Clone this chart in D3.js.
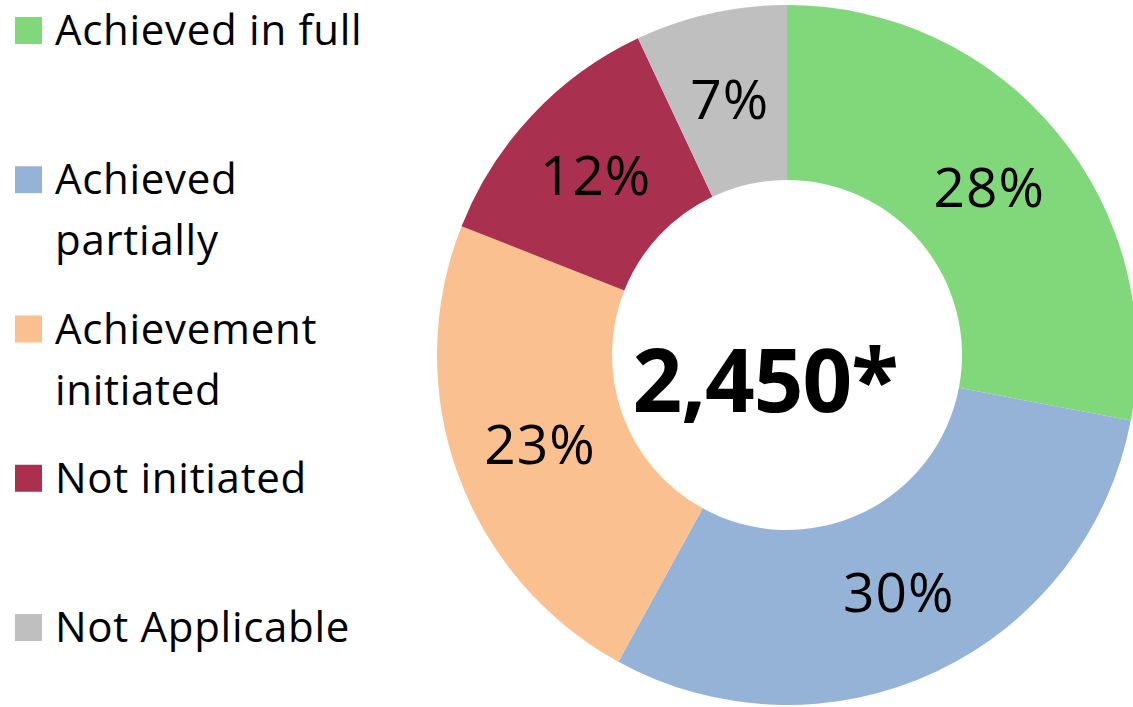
<!DOCTYPE html>
<html>
<head>
<meta charset="utf-8">
<script src="https://cdn.jsdelivr.net/npm/d3@7"></script>
<style>
  html, body { margin: 0; padding: 0; background: #fff; }
  svg { display: block; font-family: "Open Sans", Lato, sans-serif; }
</style>
</head>
<body>
<div id="chart"></div>
<script>
const categories = ["Achieved in full", "Achieved partially", "Achievement initiated", "Not initiated", "Not Applicable"];
const legendLines = [["Achieved in full"], ["Achieved", "partially"], ["Achievement", "initiated"], ["Not initiated"], ["Not Applicable"]];
const values = [28, 30, 23, 12, 7];
const colors = ["#80D87A", "#95B3D7", "#FAC090", "#A9304F", "#BFBFBF"];
const centerLabel = "2,450*";

document.addEventListener("DOMContentLoaded", draw);

function draw(){
    const width = 1133, height = 707;
    const cx = 787, cy = 355;
    const outerR = 350, innerR = 175;

    const svg = d3.select("#chart").append("svg")
        .attr("width", width)
        .attr("height", height);

    const pie = d3.pie().sort(null).value(d => d);
    const arc = d3.arc().innerRadius(innerR).outerRadius(outerR);

    const g = svg.append("g").attr("transform", `translate(${cx},${cy})`);
    const arcs = pie(values);

    g.selectAll("path.slice")
        .data(arcs)
        .enter()
        .append("path")
        .attr("class", "slice")
        .attr("d", arc)
        .attr("fill", (d, i) => colors[i]);

    g.selectAll("text.pct")
        .data(arcs)
        .enter()
        .append("text")
        .attr("class", "pct")
        .attr("x", d => arc.centroid(d)[0])
        .attr("y", d => arc.centroid(d)[1])
        .attr("dy", "0.36em")
        .attr("text-anchor", "middle")
        .attr("font-size", 55)
        .attr("letter-spacing", 1)
        .attr("fill", "#000")
        .text(d => d.data + "%");

    g.append("text")
        .attr("x", -22)
        .attr("y", 57)
        .attr("text-anchor", "middle")
        .attr("font-size", 87)
        .attr("font-weight", "bold")
        .attr("letter-spacing", -1)
        .attr("fill", "#000")
        .text(centerLabel);

    // legend
    const legendY = d3.scalePoint()
        .domain(categories)
        .range([45, 642]);

    const item = svg.append("g").selectAll("g.legend")
        .data(categories)
        .enter()
        .append("g")
        .attr("class", "legend")
        .attr("transform", d => `translate(0,${legendY(d)})`);

    item.append("rect")
        .attr("x", 15)
        .attr("y", -28)
        .attr("width", 27)
        .attr("height", 27)
        .attr("fill", (d, i) => colors[i]);

    item.append("text")
        .attr("x", 55)
        .attr("font-size", 42)
        .attr("letter-spacing", 0.7)
        .attr("fill", "#000")
        .selectAll("tspan")
        .data((d, i) => legendLines[i])
        .enter()
        .append("tspan")
        .attr("x", 55)
        .attr("dy", (d, j) => j === 0 ? 0 : 61)
        .text(d => d);
}
</script>
</body>
</html>
